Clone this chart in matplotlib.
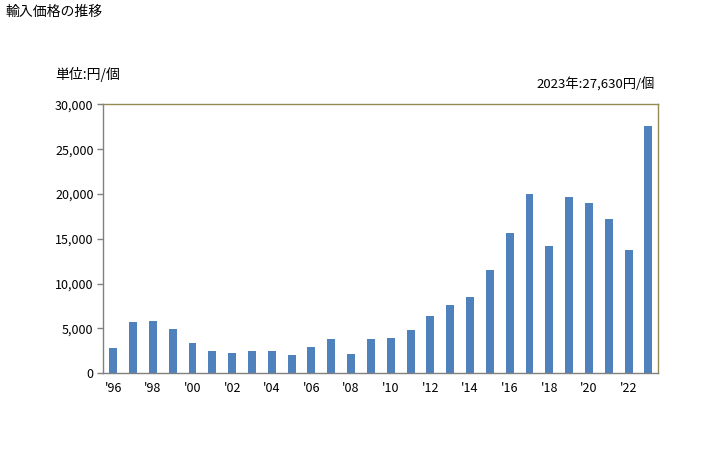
import numpy as np
from matplotlib import pyplot as plt

plt.rcParams['font.family'] = ['Noto Sans CJK JP', 'DejaVu Sans']

years = list(range(1996, 2024))
prices = [2860, 5760, 5870, 4980, 3420, 2530, 2300, 2530, 2530, 2080,
          2970, 3870, 2190, 3870, 3980, 4870, 6430, 7660, 8550, 11560,
          15690, 20040, 14240, 19700, 19030, 17250, 13790, 27630]
tick_years = years[::2]
tick_labels = ["'%02d" % (y % 100) for y in tick_years]

bar_color = '#4F81BD'
frame_olive = '#948A54'
axis_grey = '#808080'

fig = plt.figure(figsize=(7.28, 4.5), dpi=100)
ax = fig.add_axes([0.1419, 0.1704, 0.7624, 0.5978])

ax.bar(years, prices, width=0.4, color=bar_color, zorder=2)

ax.set_xlim(1995.5, 2023.5)
ax.set_ylim(0, 30000)
ax.set_yticks(np.arange(0, 30001, 5000))
ax.set_yticklabels(["{:,}".format(v) for v in range(0, 30001, 5000)], fontsize=9)
ax.set_xticks(tick_years)
ax.set_xticklabels(tick_labels, fontsize=9)
ax.tick_params(axis='x', length=0, pad=6)
ax.tick_params(axis='y', length=4, width=1, color=axis_grey, pad=3)

ax.spines['left'].set_color(axis_grey)
ax.spines['bottom'].set_color(axis_grey)
ax.spines['top'].set_color(frame_olive)
ax.spines['right'].set_color(frame_olive)
for s in ax.spines.values():
    s.set_linewidth(1.0)

fig.text(5 / 728, 1 - 12 / 450, "輸入価格の推移", fontsize=10, ha='left', va='center')
fig.text(55 / 728, 1 - 74 / 450, "単位:円/個", fontsize=10, ha='left', va='center')
fig.text(655 / 728, 1 - 85 / 450, "2023年:27,630円/個", fontsize=9.5, ha='right', va='center')

fig.savefig('out.png', dpi=100)
plt.close()
